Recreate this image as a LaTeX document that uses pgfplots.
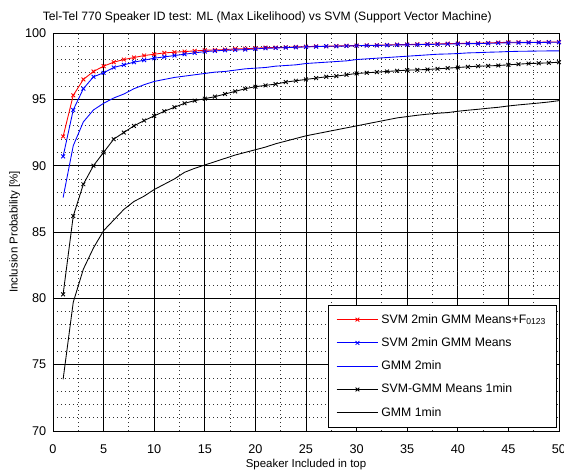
\documentclass[border=0pt]{standalone}
\usepackage{pgfplots}
\pgfplotsset{compat=1.18}
\usepackage{fontspec}
\setmainfont{Liberation Sans}

% series: x = rank (speakers included in top), y = inclusion probability [%]
\begin{document}
\begin{tikzpicture}
\useasboundingbox (-39.75pt,-29.25pt) rectangle (383.25pt,323.25pt);
\begin{axis}[
    scale only axis,
    width=379.5pt, height=298.5pt,
    xmin=0, xmax=50, ymin=70, ymax=100,
    xtick={0,5,...,50}, ytick={70,75,...,100},
    minor x tick num=1, minor y tick num=4,
    grid=both,
    major grid style={black, line width=0.5pt},
    minor grid style={black!80, line width=0.6pt, dash pattern=on 0.6pt off 2.4pt},
    major tick length=0pt, minor tick length=0pt,
    axis line style={black, line width=0.6pt},
    tick label style={font=\fontsize{9.5}{11}\selectfont},
    xticklabel style={yshift=-6.5pt},
    yticklabel style={xshift=-1.5pt},
    /pgf/number format/assume math mode=true,
    title={Tel-Tel 770 Speaker ID test: ML (Max Likelihood) vs SVM (Support Vector Machine)},
    title style={font=\fontsize{9.1}{10}\selectfont, yshift=-2pt, xshift=-29pt},
    xlabel={Speaker Included in top},
    ylabel={Inclusion Probability [\%]},
    label style={font=\fontsize{8.6}{10}\selectfont},
    xlabel style={yshift=2.3pt},
    ylabel style={yshift=-3pt},
    legend style={at={(rel axis cs:0.996,0.008)}, anchor=south east,
        font=\fontsize{9.2}{11}\selectfont,
        row sep=5.3pt, inner xsep=6pt, inner ysep=5pt},
    legend cell align=left,
    legend image code/.code={\draw[mark repeat=2,mark phase=2] plot coordinates {(0cm,0cm) (0.55cm,0cm) (1.1cm,0cm)};},
    every axis plot/.append style={line width=0.65pt},
]
\addplot[red, mark=x, mark size=2pt] coordinates {
(1,92.2) (2,95.3) (3,96.5) (4,97.1) (5,97.5) (6,97.8) (7,98.0) (8,98.15) (9,98.3) (10,98.4)
(11,98.5) (12,98.55) (13,98.6) (14,98.65) (15,98.7) (16,98.72) (17,98.75) (18,98.8) (19,98.82) (20,98.85)
(21,98.9) (22,98.9) (23,98.92) (24,98.95) (25,98.97) (26,99.0) (27,99.0) (28,99.02) (29,99.04) (30,99.05)
(31,99.07) (32,99.08) (33,99.1) (34,99.12) (35,99.13) (36,99.15) (37,99.16) (38,99.18) (39,99.2) (40,99.21)
(41,99.22) (42,99.23) (43,99.25) (44,99.28) (45,99.3) (46,99.3) (47,99.3) (48,99.3) (49,99.32) (50,99.32)
};
\addlegendentry{SVM 2min GMM Means+F\textsubscript{0123}}
\addplot[blue, mark=x, mark size=2pt] coordinates {
(1,90.7) (2,94.2) (3,95.8) (4,96.7) (5,97.0) (6,97.4) (7,97.6) (8,97.8) (9,97.95) (10,98.1)
(11,98.2) (12,98.3) (13,98.4) (14,98.5) (15,98.6) (16,98.65) (17,98.7) (18,98.72) (19,98.75) (20,98.8)
(21,98.85) (22,98.87) (23,98.9) (24,98.92) (25,98.95) (26,98.97) (27,99.0) (28,99.0) (29,99.02) (30,99.04)
(31,99.05) (32,99.06) (33,99.08) (34,99.1) (35,99.11) (36,99.12) (37,99.14) (38,99.15) (39,99.17) (40,99.18)
(41,99.2) (42,99.2) (43,99.22) (44,99.24) (45,99.26) (46,99.27) (47,99.28) (48,99.28) (49,99.3) (50,99.3)
};
\addlegendentry{SVM 2min GMM Means}
\addplot[blue, no marks] coordinates {
(1,87.6) (2,91.5) (3,93.3) (4,94.2) (5,94.7) (6,95.1) (7,95.4) (8,95.8) (9,96.1) (10,96.35)
(11,96.5) (12,96.65) (13,96.75) (14,96.85) (15,96.95) (16,97.05) (17,97.1) (18,97.2) (19,97.3) (20,97.35)
(21,97.4) (22,97.5) (23,97.55) (24,97.6) (25,97.7) (26,97.75) (27,97.8) (28,97.85) (29,97.9) (30,98.0)
(31,98.05) (32,98.1) (33,98.15) (34,98.2) (35,98.25) (36,98.3) (37,98.35) (38,98.4) (39,98.42) (40,98.45)
(41,98.5) (42,98.52) (43,98.55) (44,98.57) (45,98.6) (46,98.62) (47,98.63) (48,98.64) (49,98.65) (50,98.65)
};
\addlegendentry{GMM 2min}
\addplot[black, mark=x, mark size=2pt] coordinates {
(1,80.3) (2,86.2) (3,88.6) (4,90.0) (5,91.0) (6,92.0) (7,92.5) (8,93.0) (9,93.4) (10,93.75)
(11,94.1) (12,94.4) (13,94.7) (14,94.9) (15,95.05) (16,95.2) (17,95.4) (18,95.6) (19,95.8) (20,95.95)
(21,96.05) (22,96.15) (23,96.3) (24,96.4) (25,96.5) (26,96.6) (27,96.7) (28,96.75) (29,96.85) (30,96.95)
(31,97.0) (32,97.05) (33,97.1) (34,97.15) (35,97.2) (36,97.22) (37,97.25) (38,97.3) (39,97.35) (40,97.4)
(41,97.45) (42,97.5) (43,97.52) (44,97.55) (45,97.6) (46,97.65) (47,97.7) (48,97.72) (49,97.75) (50,97.8)
};
\addlegendentry{SVM-GMM Means 1min}
\addplot[black, no marks] coordinates {
(1,73.9) (2,79.7) (3,82.2) (4,83.8) (5,85.1) (6,85.9) (7,86.7) (8,87.3) (9,87.7) (10,88.2)
(11,88.6) (12,89.0) (13,89.5) (14,89.8) (15,90.05) (16,90.3) (17,90.55) (18,90.8) (19,91.0) (20,91.2)
(21,91.4) (22,91.65) (23,91.85) (24,92.05) (25,92.25) (26,92.4) (27,92.55) (28,92.7) (29,92.85) (30,93.0)
(31,93.15) (32,93.3) (33,93.45) (34,93.6) (35,93.7) (36,93.8) (37,93.88) (38,93.95) (39,94.0) (40,94.1)
(41,94.18) (42,94.25) (43,94.33) (44,94.4) (45,94.5) (46,94.58) (47,94.65) (48,94.72) (49,94.8) (50,94.9)
};
\addlegendentry{GMM 1min}
\end{axis}
\end{tikzpicture}
\end{document}
